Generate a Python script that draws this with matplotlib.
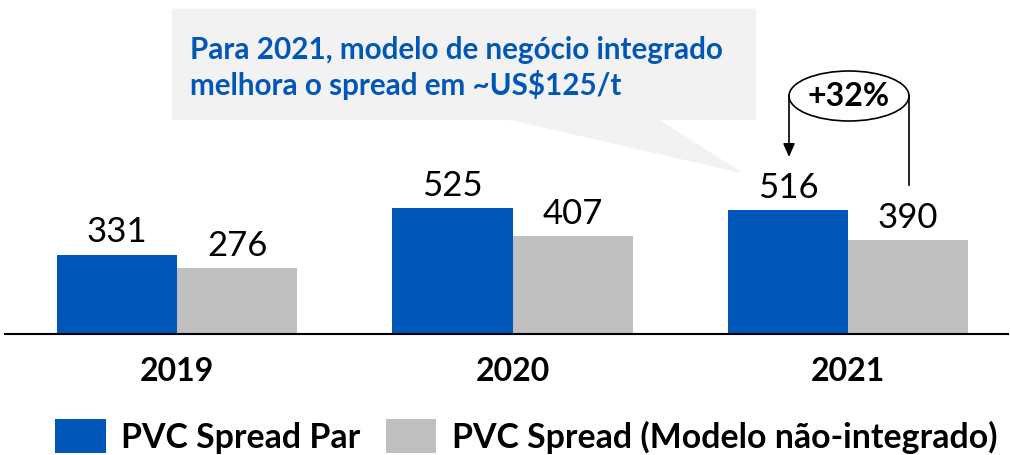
import matplotlib.pyplot as plt
from matplotlib.patches import Polygon, Ellipse, Rectangle
import numpy as np

years = ["2019", "2020", "2021"]
spread_par = [331, 525, 516]
spread_nao_integrado = [276, 407, 390]
series_names = ["PVC Spread Par", "PVC Spread (Modelo não-integrado)"]
callout_text = "Para 2021, modelo de negócio integrado\nmelhora o spread em ~US$125/t"
delta_label = "+32%"

BLUE = "#0057B8"
GREY = "#BFBFBF"
FONT = "Lato"

W, H = 1010, 456
fig = plt.figure(figsize=(W / 100, H / 100), dpi=100)


def fx(x):
    return x / W


def fy(y):
    return 1 - y / H


# main axes: baseline at y=335 px, bars at 0.24 px per unit
ax = fig.add_axes([fx(5), fy(335), fx(1003), 335 / H])
ax.set_xlim(-0.513, 2.477)
ax.set_ylim(0, 335 / 0.24)
x = np.arange(len(years))
bw = 0.358
b1 = ax.bar(x - bw / 2, spread_par, bw, color=BLUE, label=series_names[0])
b2 = ax.bar(x + bw / 2, spread_nao_integrado, bw, color=GREY, label=series_names[1])
for bars in (b1, b2):
    for r in bars:
        ax.text(r.get_x() + r.get_width() / 2, r.get_height() + 30, f"{r.get_height():.0f}",
                ha="center", va="bottom", fontsize=25, family=FONT)
for s in ["top", "right", "left"]:
    ax.spines[s].set_visible(False)
ax.spines["bottom"].set_linewidth(1.5)
ax.set_yticks([])
ax.set_xticks(x)
ax.set_xticklabels(years, fontsize=23, fontweight="bold", family=FONT)
ax.tick_params(axis="x", length=0, pad=16)

# callout bubble
fig.patches.append(Rectangle((fx(172), fy(120)), fx(583), 110 / H, transform=fig.transFigure,
                             color="#F2F2F2", zorder=0))
fig.patches.append(Polygon([(fx(505), fy(119)), (fx(655), fy(119)), (fx(740), fy(173))],
                           closed=True, transform=fig.transFigure, color="#F2F2F2", zorder=0))
fig.text(fx(190), fy(68), callout_text, fontsize=21.3, fontweight="bold", color=BLUE,
         family=FONT, va="center", ha="left", linespacing=1.2)

# +32% ellipse with arrows
fig.patches.append(Ellipse((fx(849), fy(97)), fx(120), 50 / H, transform=fig.transFigure,
                           fill=False, edgecolor="black", linewidth=1.2))
fig.text(fx(849), fy(97), delta_label, fontsize=23, fontweight="bold", family=FONT,
         ha="center", va="center")
fig.add_artist(plt.Line2D([fx(909), fx(909)], [fy(97), fy(186)], color="black", linewidth=1.2,
                          transform=fig.transFigure))
ax.annotate("", xy=(fx(789), fy(158)), xytext=(fx(789), fy(96)), xycoords="figure fraction",
            textcoords="figure fraction",
            arrowprops=dict(arrowstyle="-|>,head_length=0.8,head_width=0.35", color="black", lw=1.2,
                            shrinkA=0, shrinkB=0))

# legend
fig.legend(handles=[b1, b2], loc="center", bbox_to_anchor=(fx(526), fy(437)), ncol=2, frameon=False,
           prop={"family": FONT, "weight": "bold", "size": 24.4}, handlelength=1.5, handleheight=1.2,
           handletextpad=0.45, columnspacing=0.75)

fig.savefig("out.png", dpi=100)
